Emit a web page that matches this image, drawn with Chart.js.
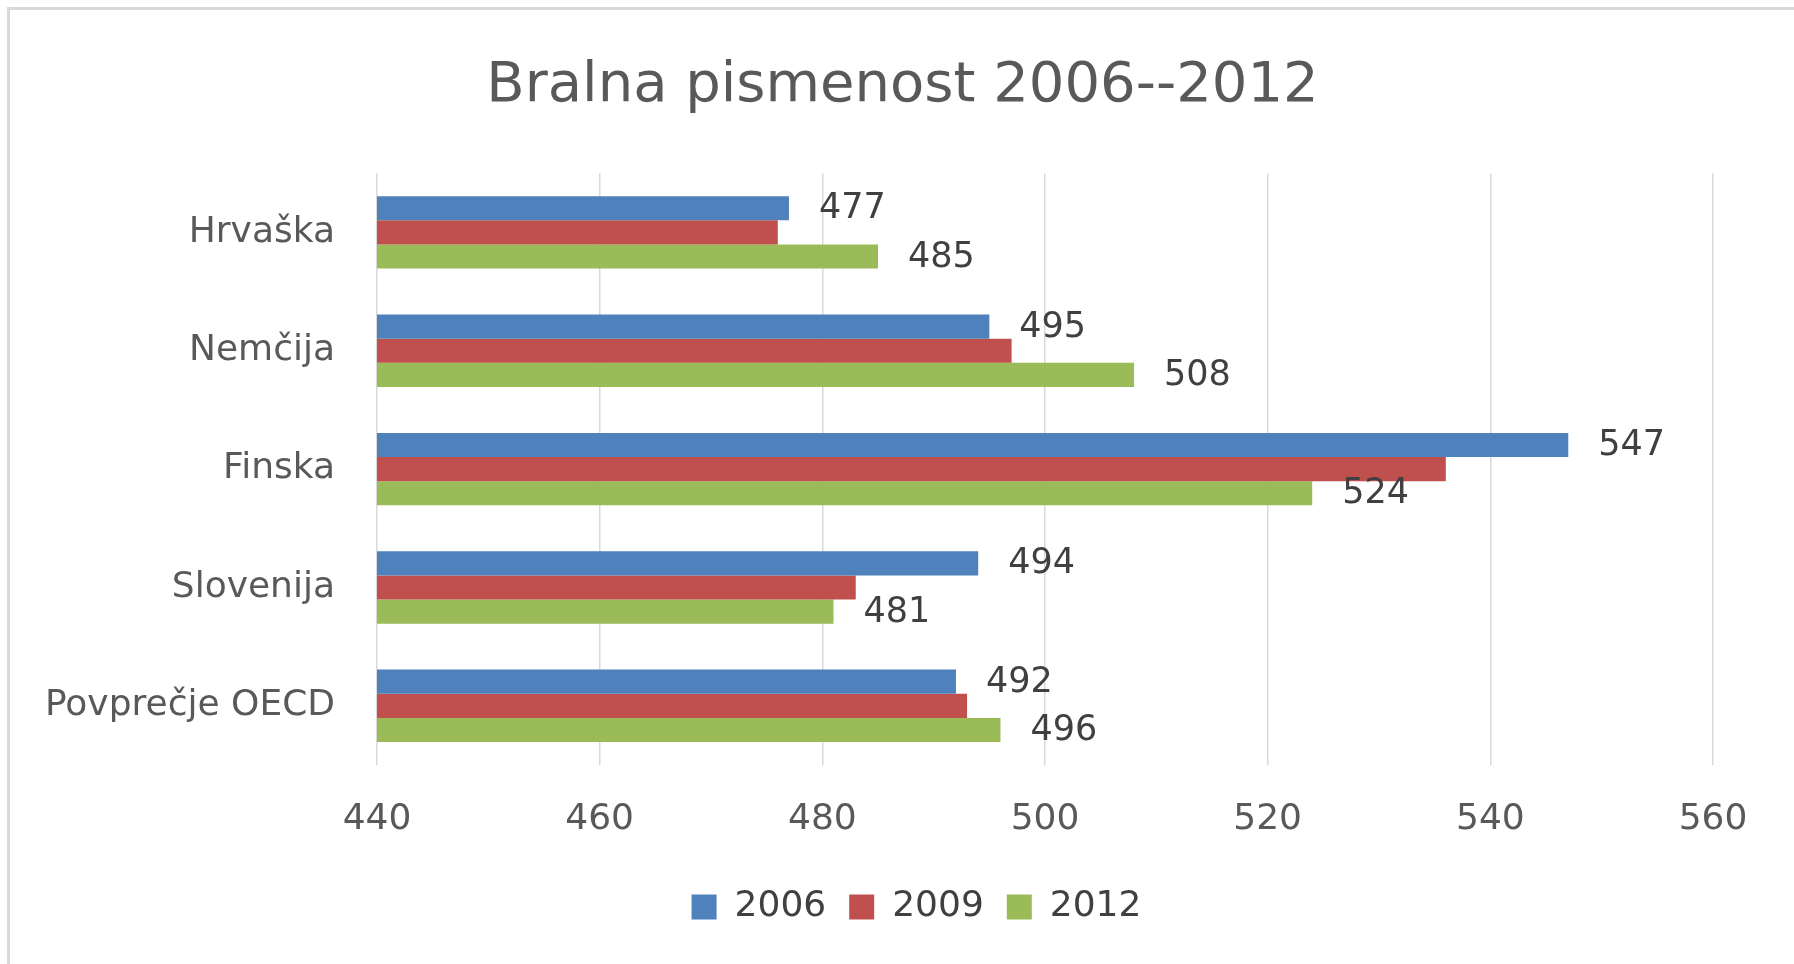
<!DOCTYPE html>
<html>
<head>
<meta charset="utf-8">
<script src="https://cdn.jsdelivr.net/npm/chart.js@4.4.1/dist/chart.umd.min.js"></script>
<style>
html,body{margin:0;padding:0;background:#fff;}
#frame{position:absolute;left:7px;top:7px;width:1787px;height:957px;border-left:3px solid #d9d9d9;border-top:3px solid #d9d9d9;box-sizing:border-box;}
#wrap{position:absolute;left:0;top:0;width:1784px;height:954px;}
</style>
</head>
<body>
<div id="frame"><div id="wrap"><canvas id="c"></canvas></div></div>
<script>
const categories = ["Hrvaška", "Nemčija", "Finska", "Slovenija", "Povprečje OECD"];
const seriesNames = ["2006", "2009", "2012"];
const values2006 = [477, 495, 547, 494, 492];
const values2009 = [476, 497, 536, 483, 493];
const values2012 = [485, 508, 524, 481, 496];
const labelledSeries = [true, false, true];
const xMin = 440, xMax = 560, xStep = 20;

const FONT = "'DejaVu Sans', sans-serif";

const dataLabels = {
  id: 'dataLabels',
  afterDatasetsDraw(chart) {
    const ctx = chart.ctx;
    ctx.save();
    ctx.font = "35px " + FONT;
    ctx.fillStyle = "#404040";
    ctx.textAlign = "left";
    ctx.textBaseline = "middle";
    chart.data.datasets.forEach((ds, i) => {
      if (!labelledSeries[i]) return;
      const meta = chart.getDatasetMeta(i);
      meta.data.forEach((bar, j) => {
        ctx.fillText(String(ds.data[j]), bar.x + 30, bar.y + 1);
      });
    });
    ctx.restore();
  }
};

const shiftBlocks = {
  id: 'shiftBlocks',
  afterLayout(chart) {
    if (chart.titleBlock) { chart.titleBlock.left += 41; chart.titleBlock.right += 41; }
    if (chart.legend) { chart.legend.left += 55; chart.legend.right += 55; }
  }
};

new Chart(document.getElementById('c'), {
  type: 'bar',
  data: {
    labels: categories,
    datasets: [
      {label: seriesNames[0], data: values2006, backgroundColor: '#4F81BD'},
      {label: seriesNames[1], data: values2009, backgroundColor: '#C0504D'},
      {label: seriesNames[2], data: values2012, backgroundColor: '#9BBB59'}
    ]
  },
  options: {
    indexAxis: 'y',
    responsive: true,
    maintainAspectRatio: false,
    animation: false,
    layout: {padding: {left: 0, right: 81, top: 0, bottom: 29}},
    datasets: {bar: {categoryPercentage: 0.612, barPercentage: 1.0}},
    scales: {
      x: {
        min: xMin, max: xMax,
        ticks: {stepSize: xStep, color: '#595959', font: {family: FONT, size: 36}, padding: 33},
        grid: {color: '#d9d9d9', lineWidth: 1.5, drawTicks: false},
        border: {display: false},
        afterFit(scale) { scale.height = 101; }
      },
      y: {
        ticks: {color: '#595959', font: {family: FONT, size: 36}, padding: 42},
        grid: {display: false, drawTicks: false},
        border: {display: false},
        afterFit(scale) { scale.width = 367; }
      }
    },
    plugins: {
      title: {
        display: true,
        text: 'Bralna pismenost 2006--2012',
        color: '#595959',
        font: {family: FONT, size: 56, weight: 'normal'},
        padding: {top: 43, bottom: 53}
      },
      legend: {
        position: 'bottom',
        labels: {
          color: '#404040',
          font: {family: FONT, size: 36},
          boxWidth: 25, boxHeight: 25,
          padding: 23
        }
      },
      tooltip: {enabled: false}
    }
  },
  plugins: [dataLabels, shiftBlocks]
});
</script>
</body>
</html>
